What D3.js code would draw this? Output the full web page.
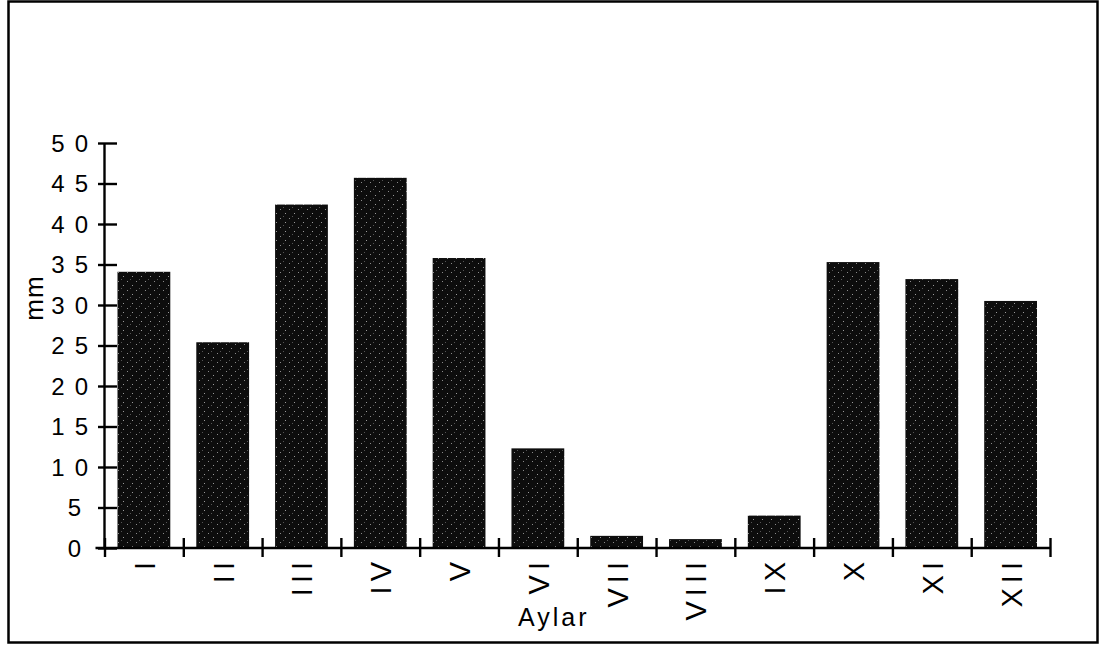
<!DOCTYPE html>
<html>
<head>
<meta charset="utf-8">
<script src="https://cdn.jsdelivr.net/npm/d3@7"></script>
<style>
  body { margin: 0; background: #fff; }
  svg text { font-family: "Liberation Sans", Arial, Helvetica, sans-serif; fill: #000; }
</style>
</head>
<body>
<div id="chart"></div>
<script>
// monthly rainfall (mm)
var months = ["I", "II", "III", "IV", "V", "VI", "VII", "VIII", "IX", "X", "XI", "XII"];
var rainfall = [34.1, 25.4, 42.4, 45.7, 35.8, 12.3, 1.5, 1.1, 4.0, 35.3, 33.2, 30.5];
var yTicks = [0, 5, 10, 15, 20, 25, 30, 35, 40, 45, 50];

var W = 1117, H = 645;
var plotLeft = 104.5, plotRight = 1050, plotTop = 143, plotBottom = 548;

var svg = d3.select("#chart").append("svg")
  .attr("width", W)
  .attr("height", H);

// speckled fill like the scanned bars
var defs = svg.append("defs");
var pat = defs.append("pattern")
  .attr("id", "speckle")
  .attr("patternUnits", "userSpaceOnUse")
  .attr("width", 9).attr("height", 9);
pat.append("rect").attr("width", 9).attr("height", 9).attr("fill", "#0d0d0d");
pat.append("rect").attr("x", 1).attr("y", 2).attr("width", 1).attr("height", 1).attr("fill", "#8a8a8a");
pat.append("rect").attr("x", 6).attr("y", 6).attr("width", 1).attr("height", 1).attr("fill", "#9a9a9a");
pat.append("rect").attr("x", 4).attr("y", 0).attr("width", 1).attr("height", 1).attr("fill", "#555");

// frame
svg.append("rect")
  .attr("x", 8.5).attr("y", 1.5)
  .attr("width", 1089).attr("height", 641)
  .attr("fill", "none")
  .attr("stroke", "#000")
  .attr("stroke-width", 2.5);

var x = d3.scaleBand()
  .domain(months)
  .range([plotLeft, plotRight])
  .paddingInner(0.33)
  .paddingOuter(0.165);

var xEdge = d3.scaleLinear()
  .domain([0, months.length])
  .range([plotLeft, plotRight]);

var y = d3.scaleLinear()
  .domain([0, 50])
  .range([plotBottom, plotTop]);

// bars
svg.selectAll(".bar")
  .data(rainfall)
  .enter().append("rect")
  .attr("class", "bar")
  .attr("x", function(d, i) { return x(months[i]); })
  .attr("width", x.bandwidth())
  .attr("y", function(d) { return y(d); })
  .attr("height", function(d) { return y(0) - y(d); })
  .attr("fill", "url(#speckle)");

// y axis
var yAxis = d3.axisLeft(y).tickValues(yTicks).tickFormat("");
var gy = svg.append("g")
  .attr("transform", "translate(" + plotLeft + ",0)")
  .call(yAxis);
gy.select(".domain").attr("stroke", "#000").attr("stroke-width", 2.4)
  .attr("d", "M0," + plotTop + "V" + plotBottom);
gy.selectAll(".tick line")
  .attr("x1", -6.5).attr("x2", 12.5)
  .attr("stroke", "#000").attr("stroke-width", 2.4);

svg.selectAll(".ylab")
  .data(yTicks)
  .enter().append("text")
  .attr("class", "ylab")
  .attr("x", function(d) { return d < 10 ? 91 : 98; })
  .attr("y", function(d) { return y(d); })
  .attr("dy", "0.36em")
  .attr("text-anchor", "end")
  .style("font-size", "24px")
  .style("letter-spacing", "10px")
  .text(function(d) { return d; });

// x axis
var xAxis = d3.axisBottom(xEdge).tickValues(d3.range(0, months.length + 1)).tickFormat("").tickSizeOuter(0);
var gx = svg.append("g")
  .attr("transform", "translate(0," + plotBottom + ")")
  .call(xAxis);
gx.select(".domain").attr("stroke", "#000").attr("stroke-width", 2.4)
  .attr("d", "M" + (plotLeft - 9) + ",0H" + plotRight);
gx.selectAll(".tick line")
  .attr("y1", -10).attr("y2", 9)
  .attr("stroke", "#000").attr("stroke-width", 2.4);

// rotated roman numerals
svg.selectAll(".xlab")
  .data(months)
  .enter().append("text")
  .attr("class", "xlab")
  .attr("text-anchor", "end")
  .attr("transform", function(d) {
    return "translate(" + (x(d) + x.bandwidth() / 2 + 11) + "," + 557 + ") rotate(-90)";
  })
  .style("font-size", "29px")
  .style("letter-spacing", "5px")
  .text(function(d) { return d; });

// axis titles
svg.append("text")
  .attr("x", 518)
  .attr("y", 626)
  .style("font-size", "25px")
  .style("letter-spacing", "3px")
  .text("Aylar");

svg.append("text")
  .attr("transform", "translate(43,298) rotate(-90)")
  .attr("text-anchor", "middle")
  .style("font-size", "26px")
  .style("letter-spacing", "1px")
  .text("mm");
</script>
</body>
</html>
